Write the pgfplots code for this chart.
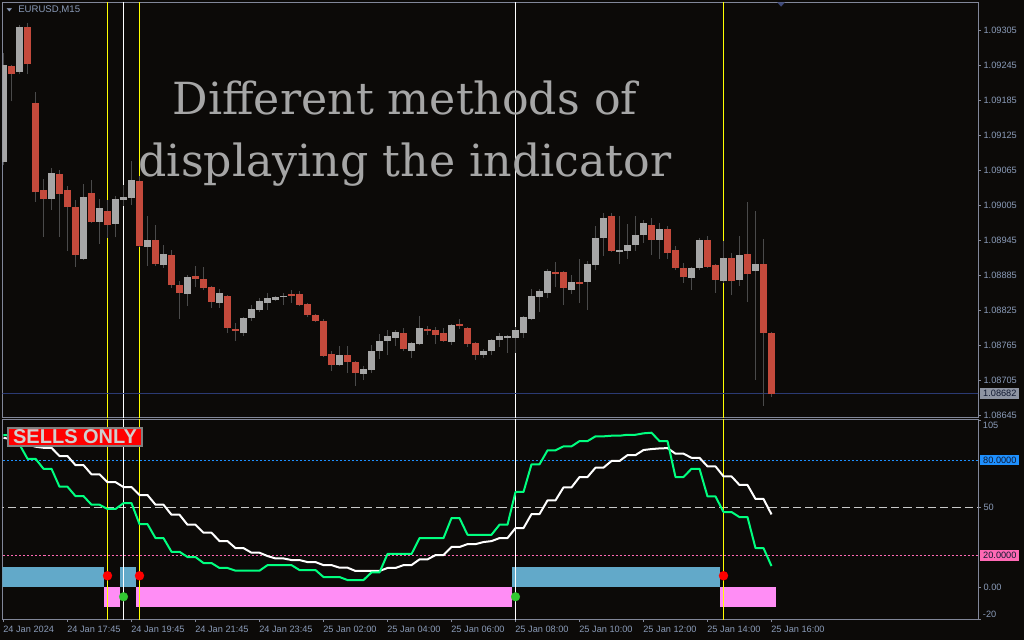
\documentclass[border=0pt]{standalone}
\usepackage{fontspec}
\setmainfont{Liberation Sans}
\newfontfamily\titlefont{DejaVu Serif}
\newfontfamily\dejavusans{DejaVu Sans}
\usepackage{pgfplots}
\usepackage{pgfplotstable}
\pgfplotsset{compat=1.18}

\definecolor{bgcol}{HTML}{0C0A08}
\definecolor{framecol}{HTML}{828799}
\definecolor{labelcol}{HTML}{8A9BB8}
\definecolor{candlered}{HTML}{C44A3C}
\definecolor{candlegray}{HTML}{A6A6A6}
\definecolor{wickcol}{HTML}{4A4A4A}
\definecolor{priceline}{HTML}{2B3A73}
\definecolor{pricebox}{HTML}{8E94A2}
\definecolor{boxtext}{HTML}{101830}
\definecolor{boxblue}{HTML}{62A9C9}
\definecolor{boxpink}{HTML}{FF8DF5}
\definecolor{lvlblue}{HTML}{1E90FF}
\definecolor{lvlpink}{HTML}{FF69B4}
\definecolor{lvlgray}{HTML}{C8C8C8}
\definecolor{stochgreen}{HTML}{00FF7F}
\definecolor{dotgreen}{HTML}{32C832}
\definecolor{titlecol}{HTML}{A6A6A6}
\definecolor{evyellow}{HTML}{FFFF00}
\definecolor{sellgray}{HTML}{808080}
\definecolor{selltext}{HTML}{CFCFCF}
\definecolor{shiftmark}{HTML}{3F4A7A}

% bullish candles: k open high low close
\pgfplotstableread{
k O H L C
0 1.09080 1.09266 1.09074 1.09246
2 1.09234 1.09314 1.09230 1.09310
6 1.09016 1.09069 1.08997 1.09060
10 1.08913 1.09042 1.08911 1.09019
12 1.08976 1.09016 1.08939 1.09000
14 1.08973 1.09021 1.08950 1.09016
15 1.09014 1.09040 1.09004 1.09019
16 1.09018 1.09081 1.09006 1.09048
18 1.08934 1.08987 1.08901 1.08946
20 1.08903 1.08937 1.08898 1.08922
23 1.08853 1.08886 1.08832 1.08882
27 1.08838 1.08862 1.08829 1.08855
30 1.08786 1.08814 1.08781 1.08812
31 1.08812 1.08834 1.08807 1.08827
32 1.08826 1.08846 1.08822 1.08841
33 1.08838 1.08855 1.08826 1.08846
34 1.08843 1.08850 1.08841 1.08848
35 1.08848 1.08855 1.08834 1.08850
42 1.08731 1.08764 1.08730 1.08748
45 1.08716 1.08730 1.08706 1.08724
46 1.08723 1.08766 1.08718 1.08755
47 1.08755 1.08784 1.08742 1.08772
48 1.08772 1.08791 1.08748 1.08781
49 1.08778 1.08791 1.08764 1.08788
51 1.08755 1.08771 1.08743 1.08769
52 1.08767 1.08815 1.08766 1.08795
56 1.08771 1.08802 1.08766 1.08800
60 1.08748 1.08759 1.08743 1.08755
61 1.08755 1.08776 1.08748 1.08774
62 1.08774 1.08786 1.08762 1.08781
63 1.08778 1.08783 1.08752 1.08781
64 1.08778 1.08796 1.08752 1.08791
65 1.08786 1.08815 1.08778 1.08814
66 1.08810 1.08862 1.08808 1.08850
67 1.08848 1.08862 1.08822 1.08858
68 1.08855 1.08896 1.08846 1.08892
71 1.08860 1.08886 1.08853 1.08874
73 1.08874 1.08910 1.08826 1.08904
74 1.08903 1.08970 1.08894 1.08949
75 1.08949 1.08992 1.08918 1.08983
77 1.08925 1.08987 1.08904 1.08928
78 1.08927 1.08973 1.08913 1.08937
79 1.08937 1.08987 1.08927 1.08954
80 1.08954 1.08980 1.08940 1.08975
82 1.08946 1.08975 1.08913 1.08964
86 1.08880 1.08899 1.08860 1.08898
87 1.08898 1.08949 1.08894 1.08946
90 1.08875 1.08944 1.08872 1.08915
92 1.08877 1.08952 1.08867 1.08920
94 1.08892 1.08995 1.08706 1.08904
}\bull

% bearish candles: k open high low close
\pgfplotstableread{
k O H L C
1 1.09243 1.09246 1.09183 1.09230
3 1.09311 1.09317 1.09230 1.09247
4 1.09181 1.09200 1.09011 1.09027
5 1.09031 1.09050 1.08951 1.09016
7 1.09059 1.09066 1.08951 1.09024
8 1.09031 1.09038 1.08927 1.09002
9 1.09002 1.09014 1.08900 1.08920
11 1.09026 1.09048 1.08975 1.08976
13 1.08995 1.09014 1.08949 1.08971
17 1.09047 1.09055 1.08934 1.08936
19 1.08946 1.08971 1.08901 1.08904
21 1.08920 1.08928 1.08863 1.08868
22 1.08868 1.08875 1.08810 1.08855
24 1.08884 1.08901 1.08865 1.08879
25 1.08879 1.08899 1.08860 1.08863
26 1.08865 1.08867 1.08829 1.08839
28 1.08850 1.08851 1.08786 1.08795
29 1.08793 1.08803 1.08772 1.08790
36 1.08853 1.08860 1.08838 1.08850
37 1.08853 1.08858 1.08832 1.08834
38 1.08836 1.08838 1.08813 1.08817
39 1.08817 1.08819 1.08805 1.08807
40 1.08807 1.08810 1.08745 1.08747
41 1.08750 1.08755 1.08721 1.08731
43 1.08748 1.08764 1.08718 1.08736
44 1.08736 1.08738 1.08695 1.08718
50 1.08786 1.08795 1.08755 1.08759
53 1.08793 1.08798 1.08783 1.08790
54 1.08791 1.08796 1.08767 1.08783
55 1.08786 1.08795 1.08771 1.08772
57 1.08802 1.08810 1.08793 1.08798
58 1.08795 1.08796 1.08762 1.08767
59 1.08769 1.08771 1.08740 1.08748
69 1.08891 1.08908 1.08865 1.08887
70 1.08891 1.08892 1.08834 1.08863
72 1.08874 1.08913 1.08838 1.08870
76 1.08987 1.08992 1.08925 1.08927
81 1.08971 1.08983 1.08920 1.08946
83 1.08964 1.08970 1.08913 1.08923
84 1.08928 1.08935 1.08894 1.08898
85 1.08898 1.08906 1.08872 1.08882
88 1.08946 1.08952 1.08898 1.08899
89 1.08903 1.08904 1.08855 1.08877
91 1.08915 1.08923 1.08851 1.08875
93 1.08922 1.09011 1.08839 1.08887
95 1.08904 1.08947 1.08661 1.08786
96 1.08786 1.08788 1.08676 1.08682
}\bear

% indicator: k green white
\pgfplotstableread{
k G W
0 95.7 94.0
1 95.7 93.0
2 89.8 91.5
3 80.8 89.8
4 80.8 88.4
5 74.5 87.7
6 74.5 87.7
7 63.2 82.5
8 63.2 82.5
9 57.3 76.8
10 57.3 76.8
11 51.9 71.0
12 51.9 71.0
13 49.2 66.1
14 49.2 66.1
15 52.9 63.0
16 52.9 63.0
17 39.7 58.0
18 39.7 58.0
19 30.9 51.9
20 30.9 51.9
21 22.3 45.6
22 22.3 45.6
23 19.0 39.3
24 19.0 39.3
25 15.2 34.3
26 15.2 34.3
27 12.1 29.0
28 12.1 29.0
29 10.4 24.6
30 10.4 24.6
31 10.4 21.7
32 10.4 21.7
33 13.9 19.6
34 13.9 18.1
35 13.9 18.1
36 13.9 17.1
37 10.8 17.1
38 10.8 15.8
39 10.8 15.8
40 6.4 13.9
41 6.4 13.9
42 6.4 12.3
43 4.5 12.3
44 4.5 10.2
45 4.5 10.2
46 9.3 10.2
47 9.3 10.2
48 20.9 12.1
49 20.9 12.1
50 20.9 13.9
51 20.9 13.9
52 30.9 17.5
53 30.9 17.5
54 30.9 20.2
55 30.9 20.2
56 43.5 25.3
57 43.5 25.3
58 33.0 27.1
59 33.0 27.1
60 33.0 28.4
61 33.0 29.0
62 39.3 30.9
63 39.3 30.9
64 59.9 37.2
65 59.9 37.2
66 77.3 46.0
67 77.3 46.0
68 86.1 54.6
69 86.1 54.6
70 88.6 62.8
71 88.6 62.8
72 91.9 69.3
73 91.9 69.3
74 94.9 75.2
75 94.9 75.2
76 95.3 79.4
77 95.3 79.4
78 95.9 83.1
79 95.9 83.1
80 96.8 86.3
81 97.2 86.9
82 91.9 87.3
83 91.9 87.5
84 69.3 84.0
85 69.3 84.0
86 74.5 81.4
87 74.5 81.4
88 57.1 76.0
89 57.1 76.0
90 47.3 69.7
91 47.3 69.7
92 44.1 64.3
93 44.1 64.3
94 24.6 55.5
95 24.6 55.5
96 13.3 45.8
}\stoch

\tikzset{
  evline/.style={line width=0.75pt},
  valbox/.style={anchor=west, xshift=1.5pt, inner xsep=2.2pt, inner ysep=0pt,
    minimum height=7.9pt, text=boxtext, font=\fontsize{6.9}{8}\selectfont},
}
\pgfplotsset{
  mtpanel/.style={
    anchor=south west, scale only axis,
    width=731.625pt,
    xmin=-0.125, xmax=121.8125,
    axis line style={draw=framecol, line width=0.75pt},
    axis background/.style={fill=bgcol},
    tick align=outside, major tick length=2pt,
    tick style={draw=framecol, line width=0.75pt},
    ytick pos=right, yticklabel pos=right,
    ticklabel style={font=\fontsize{6.9}{8}\selectfont, text=labelcol},
    yticklabel style={inner xsep=2pt},
    /pgf/number format/assume math mode=true,
    scaled y ticks=false, scaled x ticks=false,
    clip mode=individual,
  },
  candle/.style={draw=none, mark=none,
    error bars/.cd, y dir=plus, y explicit, error mark=none,
    error bar style={draw=#1}},
}

\begin{document}
\begin{tikzpicture}
\useasboundingbox (0,0) rectangle (768pt,480pt);
\fill[bgcol] (0,0) rectangle (768pt,480pt);

% ---------------- main price panel ----------------
\begin{axis}[mtpanel,
  at={(1.875pt,167.25pt)}, height=310.875pt,
  ymin=1.086421, ymax=1.093527,
  xtick=\empty,
  ytick={1.09305,1.09245,1.09185,1.09125,1.09065,1.09005,1.08945,1.08885,1.08825,1.08765,1.08705,1.08645},
  yticklabels={1.09305,1.09245,1.09185,1.09125,1.09065,1.09005,1.08945,1.08885,1.08825,1.08765,1.08705,1.08645},
]
\addplot[evyellow, evline] coordinates {(13,1.0860) (13,1.0940)};
\addplot[white, evline] coordinates {(15,1.0860) (15,1.0940)};
\addplot[evyellow, evline] coordinates {(17,1.0860) (17,1.0940)};
\addplot[white, evline] coordinates {(64,1.0860) (64,1.0940)};
\addplot[evyellow, evline] coordinates {(90,1.0860) (90,1.0940)};
\addplot[priceline, line width=0.75pt] coordinates {(-1,1.08682) (123,1.08682)};
% wicks
\addplot[draw=none, mark=none,
  error bars/.cd, y dir=plus, y explicit, error mark=none,
  error bar style={draw=wickcol, line width=0.75pt}]
  table[x=k, y=L, y error plus expr=\thisrow{H}-\thisrow{L}] {\bull};
\addplot[draw=none, mark=none,
  error bars/.cd, y dir=plus, y explicit, error mark=none,
  error bar style={draw=wickcol, line width=0.75pt}]
  table[x=k, y=L, y error plus expr=\thisrow{H}-\thisrow{L}] {\bear};
% bodies
\addplot[draw=none, mark=none,
  error bars/.cd, y dir=plus, y explicit, error mark=none,
  error bar style={draw=candlegray, line width=5.25pt}]
  table[x=k, y=O, y error plus expr=\thisrow{C}-\thisrow{O}] {\bull};
\addplot[draw=none, mark=none,
  error bars/.cd, y dir=plus, y explicit, error mark=none,
  error bar style={draw=candlered, line width=5.25pt}]
  table[x=k, y=C, y error plus expr=\thisrow{O}-\thisrow{C}] {\bear};
% current price box and shift marker
\node[valbox, fill=pricebox] at (axis cs:121.8125,1.08682) {1.08682};
\node[anchor=north, inner sep=0pt, text=shiftmark, yscale=0.55,
  font=\dejavusans\fontsize{8}{8}\selectfont] at (axis cs:97.2,1.093527) {▼};
\end{axis}

% ---------------- indicator panel ----------------
\begin{axis}[mtpanel,
  at={(1.875pt,15.75pt)}, height=149.625pt,
  ymin=-20, ymax=105.5,
  ytick={-20,0,50,105}, yticklabels={,0.00,50,},
  xtick={0,8,16,24,32,40,48,56,64,72,80,88,96},
  xticklabels={24 Jan 2024,24 Jan 17:45,24 Jan 19:45,24 Jan 21:45,24 Jan 23:45,25 Jan 02:00,25 Jan 04:00,25 Jan 06:00,25 Jan 08:00,25 Jan 10:00,25 Jan 12:00,25 Jan 14:00,25 Jan 16:00},
  xtick pos=left,
  xticklabel style={anchor=north west, inner xsep=0pt, xshift=-0.3pt},
]
% histogram blocks
\addplot[fill=boxblue, draw=none] coordinates {(-0.5,0) (-0.5,12.5) (12.5,12.5) (12.5,0)} -- cycle;
\addplot[fill=boxpink, draw=none] coordinates {(12.5,0) (12.5,-12.2) (14.5,-12.2) (14.5,0)} -- cycle;
\addplot[fill=boxblue, draw=none] coordinates {(14.5,0) (14.5,12.5) (16.5,12.5) (16.5,0)} -- cycle;
\addplot[fill=boxpink, draw=none] coordinates {(16.5,0) (16.5,-12.2) (63.5,-12.2) (63.5,0)} -- cycle;
\addplot[fill=boxblue, draw=none] coordinates {(63.5,0) (63.5,12.5) (89.5,12.5) (89.5,0)} -- cycle;
\addplot[fill=boxpink, draw=none] coordinates {(89.5,0) (89.5,-12.2) (96.5,-12.2) (96.5,0)} -- cycle;
% levels
\addplot[lvlblue, line width=0.75pt, dash pattern=on 1.5pt off 1.5pt] coordinates {(-1,80) (123,80)};
\addplot[lvlgray, line width=0.75pt, dash pattern=on 6.2pt off 3pt] coordinates {(-1,50) (123,50)};
\addplot[lvlpink, line width=0.75pt, dash pattern=on 1.5pt off 1.5pt] coordinates {(-1,20) (123,20)};
% event lines
\addplot[evyellow, evline] coordinates {(13,-25) (13,110)};
\addplot[white, evline] coordinates {(15,-25) (15,110)};
\addplot[evyellow, evline] coordinates {(17,-25) (17,110)};
\addplot[white, evline] coordinates {(64,-25) (64,110)};
\addplot[evyellow, evline] coordinates {(90,-25) (90,110)};
% oscillator lines
\addplot[white, line width=1.5pt, line join=round] table[x=k, y=W] {\stoch};
\addplot[stochgreen, line width=1.5pt, line join=round] table[x=k, y=G] {\stoch};
% signal dots
\addplot[only marks, mark=*, mark size=3.4pt, mark options={fill=red, draw=red, line width=0.2pt}]
  coordinates {(13,7.2) (17,7.2) (90,7.2)};
\addplot[only marks, mark=*, mark size=3.3pt, mark options={fill=dotgreen, draw=dotgreen, line width=0.2pt}]
  coordinates {(15,-6.0) (64,-6.0)};
% level value boxes and edge labels
\node[valbox, fill=lvlblue] at (axis cs:121.8125,80) {80.0000};
\node[valbox, fill=lvlpink] at (axis cs:121.8125,20) {20.0000};
\node[anchor=north west, inner xsep=3.5pt, inner ysep=1.5pt, text=labelcol,
  font=\fontsize{6.9}{8}\selectfont] at (axis cs:121.8125,105.5) {105};
\node[anchor=south west, inner xsep=3.5pt, inner ysep=1pt, text=labelcol,
  font=\fontsize{6.9}{8}\selectfont] at (axis cs:121.8125,-20) {-20};
\end{axis}

% ---------------- annotations ----------------
\node[anchor=west, inner sep=0pt, text=labelcol, font=\fontsize{7.2}{8}\selectfont] at (13.5pt,472.5pt) {EURUSD,M15};
\node[inner sep=0pt, text=labelcol, yscale=0.6, font=\dejavusans\fontsize{5.5}{6}\selectfont] at (7pt,472.3pt) {▼};
\node[anchor=base, inner sep=0pt, text=titlecol, font=\titlefont\fontsize{33.2}{36}\selectfont] at (303.75pt,393.75pt) {Different methods of};
\node[anchor=base, inner sep=0pt, text=titlecol, font=\titlefont\fontsize{33.2}{36}\selectfont] at (303.75pt,347.25pt) {displaying the indicator};
\node[draw=sellgray, line width=1.5pt, fill=red, inner sep=0pt,
  minimum width=100pt, minimum height=14pt, text=selltext,
  font=\bfseries\fontsize{15}{15}\selectfont] at (56.25pt,152.25pt) {SELLS ONLY};
\end{tikzpicture}
\end{document}
